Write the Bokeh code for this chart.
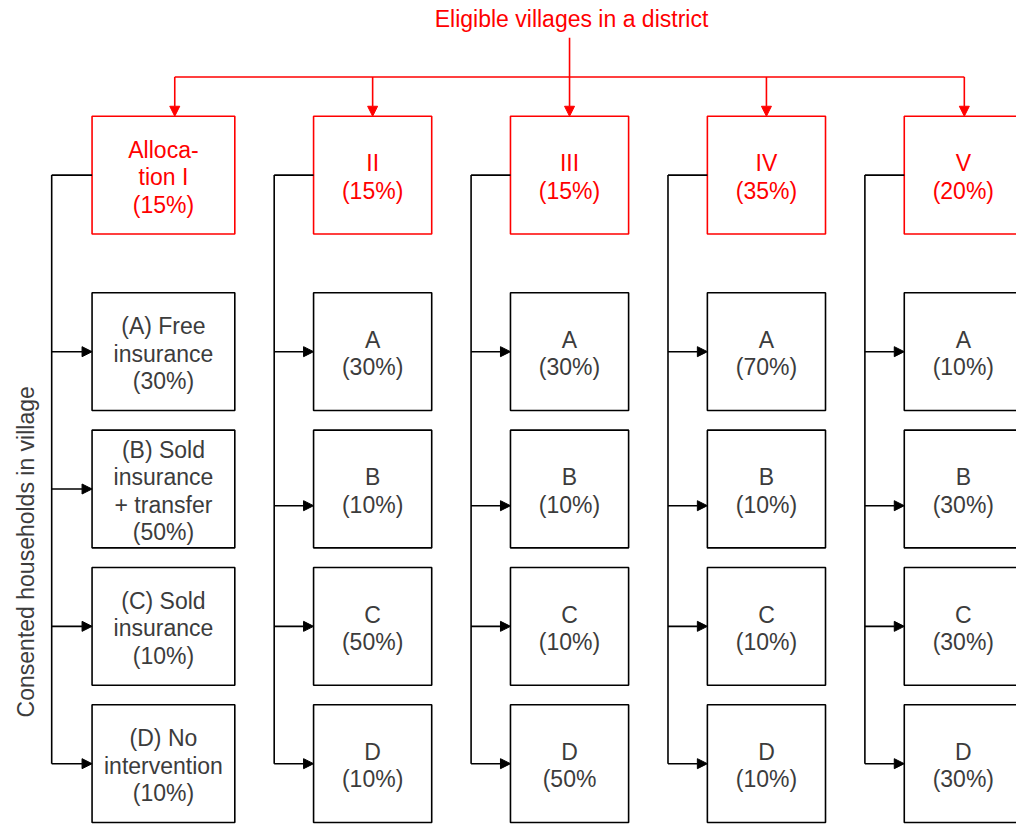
import math
from bokeh.plotting import figure
from bokeh.models import Range1d, ColumnDataSource, Arrow, NormalHead
from bokeh.core.properties import value
from bokeh.embed import file_html
from bokeh.resources import INLINE

# ---- content ----
title_text = "Eligible villages in a district"
side_label = "Consented households in village"
alloc_names = ["Alloca-\ntion I", "II", "III", "IV", "V"]
alloc_shares = ["(15%)", "(15%)", "(15%)", "(35%)", "(20%)"]
arm_names_first = ["(A) Free\ninsurance", "(B) Sold\ninsurance\n+ transfer",
                   "(C) Sold\ninsurance", "(D) No\nintervention"]
arm_letters = ["A", "B", "C", "D"]
arm_shares_I = ["(30%)", "(50%)", "(10%)", "(10%)"]
arm_shares_II = ["(30%)", "(10%)", "(50%)", "(10%)"]
arm_shares_III = ["(30%)", "(10%)", "(10%)", "(50%"]
arm_shares_IV = ["(70%)", "(10%)", "(10%)", "(10%)"]
arm_shares_V = ["(10%)", "(30%)", "(30%)", "(30%)"]
arm_shares = [arm_shares_I, arm_shares_II, arm_shares_III, arm_shares_IV, arm_shares_V]

# ---- layout (pixel space of the reference picture) ----
col_left = [93, 318, 518, 718, 918]
col_width = [145, 120, 120, 120, 120]
trunk_x = [52, 278, 478, 678, 878]
drop_x = [177, 378, 578, 778, 979]
box_h = 120
header_top = 118
row_top = [298, 438, 578, 718]
bar_y = 78
title_y = 19
line_gap = 28

RED = "#FF0000"
BLACK = "#000000"
TXT = "#3c3c3c"
FONT = value("Liberation Sans")
FS = "23px"
LW = 1.6

p = figure(width=1016, height=824, x_range=Range1d(0, 1032), y_range=Range1d(840, 0),
           output_backend="svg", toolbar_location=None, min_border=0)
p.axis.visible = False
p.xgrid.visible = False
p.ygrid.visible = False
p.outline_line_color = None
p.background_fill_color = "white"
p.border_fill_color = "white"

# red title
p.text(x=[580], y=[title_y], text=[title_text], text_color=RED, text_font=FONT,
       text_font_size=FS, text_align="center", text_baseline="middle")

# red connectors
p.segment(x0=[drop_x[0]], y0=[bar_y], x1=[drop_x[-1]], y1=[bar_y], line_color=RED, line_width=LW)
red_src = ColumnDataSource(dict(
    x0=drop_x, y0=[bar_y if i != 2 else 38 for i in range(5)],
    x1=drop_x, y1=[header_top] * 5))
p.add_layout(Arrow(end=NormalHead(size=10, fill_color=RED, line_color=RED),
                   x_start="x0", y_start="y0", x_end="x1", y_end="y1",
                   line_color=RED, line_width=LW, source=red_src))

# header boxes
hl = col_left
hr = [l + w for l, w in zip(col_left, col_width)]
p.quad(left=hl, right=hr, top=[header_top] * 5, bottom=[header_top + box_h] * 5,
       fill_color="white", line_color=RED, line_width=LW)

# black trunks
hc = header_top + box_h / 2
tx0, ty0, tx1, ty1 = [], [], [], []
for c in range(5):
    tx0 += [trunk_x[c], trunk_x[c]]
    ty0 += [hc, hc]
    tx1 += [col_left[c], trunk_x[c]]
    ty1 += [hc, row_top[-1] + box_h / 2]
p.segment(x0=tx0, y0=ty0, x1=tx1, y1=ty1, line_color=BLACK, line_width=LW)

# arm boxes
bl, br, bt, bb = [], [], [], []
ax0, ay, ax1 = [], [], []
for c in range(5):
    for r in range(4):
        bl.append(col_left[c]); br.append(col_left[c] + col_width[c])
        bt.append(row_top[r]); bb.append(row_top[r] + box_h)
        yc = row_top[r] + box_h / 2
        if r == 1 and c > 0:
            yc += 17
        ax0.append(trunk_x[c]); ay.append(yc); ax1.append(col_left[c])
p.quad(left=bl, right=br, top=bt, bottom=bb, fill_color="white", line_color=BLACK, line_width=LW)
arm_src = ColumnDataSource(dict(x0=ax0, y0=ay, x1=ax1, y1=ay))
p.add_layout(Arrow(end=NormalHead(size=10, fill_color=BLACK, line_color=BLACK),
                   x_start="x0", y_start="y0", x_end="x1", y_end="y1",
                   line_color=BLACK, line_width=LW, source=arm_src))

# texts
def place(label, cx, cy, xs, ys, ts):
    lines = label.split("\n")
    n = len(lines)
    for i, ln in enumerate(lines):
        xs.append(cx)
        ys.append(cy + 2 + (i - (n - 1) / 2) * line_gap)
        ts.append(ln)

rx, ry, rt = [], [], []
for c in range(5):
    place(alloc_names[c] + "\n" + alloc_shares[c], col_left[c] + col_width[c] / 2,
          header_top + box_h / 2, rx, ry, rt)
p.text(x=rx, y=ry, text=rt, text_color=RED, text_font=FONT, text_font_size=FS,
       text_align="center", text_baseline="middle")

kx, ky, kt = [], [], []
for c in range(5):
    for r in range(4):
        name = arm_names_first[r] if c == 0 else arm_letters[r]
        place(name + "\n" + arm_shares[c][r], col_left[c] + col_width[c] / 2,
              row_top[r] + box_h / 2, kx, ky, kt)
p.text(x=kx, y=ky, text=kt, text_color=TXT, text_font=FONT, text_font_size=FS,
       text_align="center", text_baseline="middle")

# rotated side label
p.text(x=[26], y=[562], text=[side_label], angle=[math.pi / 2], text_color=TXT,
       text_font=FONT, text_font_size=FS, text_align="center", text_baseline="middle")

open("out.html", "w").write(file_html(p, INLINE))
